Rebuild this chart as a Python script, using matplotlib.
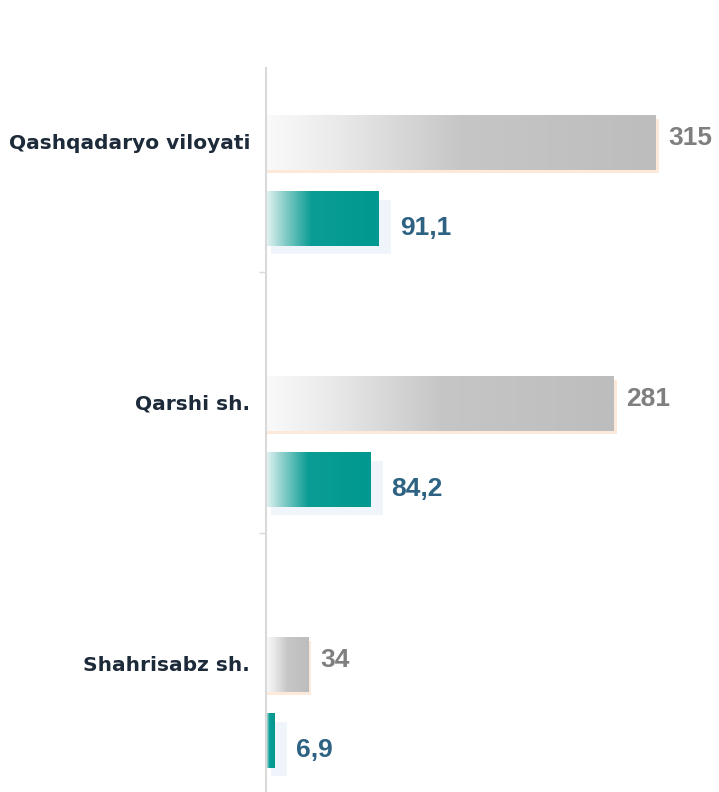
import matplotlib.pyplot as plt
import numpy as np
from matplotlib.colors import LinearSegmentedColormap
from matplotlib.transforms import blended_transform_factory

categories = ['Qashqadaryo viloyati', 'Qarshi sh.', 'Shahrisabz sh.']
gray_vals = [315, 281, 34]
teal_vals = [91.1, 84.2, 6.9]

plt.rcParams['font.family'] = ['Liberation Sans', 'DejaVu Sans']

fig = plt.figure(figsize=(7.19, 7.92), dpi=100)
ax = fig.add_axes([266 / 719, 0, 453 / 719, 724 / 792])

gray_cmap = LinearSegmentedColormap.from_list(
    'g', [(0, '#fafafa'), (0.2, '#e8e8e8'), (0.5, '#c6c6c6'), (1, '#bdbdbd')])
teal_cmap = LinearSegmentedColormap.from_list(
    't', [(0, '#e4f4f3'), (0.15, '#8fd0cc'), (0.4, '#0a9d95'), (1, '#009890')])

ramp = np.linspace(0, 1, 256).reshape(1, -1)
h = 0.207
off = 0.145

for i, (g, t) in enumerate(zip(gray_vals, teal_vals)):
    yg = i - off
    yt = i + off
    # soft glow under the bars
    ax.add_patch(plt.Rectangle((1, yg - h / 2 + 0.012), g + 1.5, h,
                               color='#fde9da', zorder=1, lw=0))
    ax.add_patch(plt.Rectangle((4, yt - h / 2 + 0.03), t + 6, h,
                               color='#f0f5fc', zorder=1, lw=0))
    ax.imshow(ramp, cmap=gray_cmap, aspect='auto', zorder=2,
              extent=[0, g, yg + h / 2, yg - h / 2])
    ax.imshow(ramp, cmap=teal_cmap, aspect='auto', zorder=2,
              extent=[0, t, yt + h / 2, yt - h / 2])
    ax.text(g + 10, yg - 0.02, str(g), color='#7f7f7f', fontsize=19,
            fontweight='bold', va='center', ha='left')
    ax.text(t + 17, yt + 0.035, str(t).replace('.', ','), color='#2e6283',
            fontsize=19, fontweight='bold', va='center', ha='left')

tr = blended_transform_factory(ax.transAxes, ax.transData)
for i, c in enumerate(categories):
    ax.text(-0.035, i - off, c, transform=tr, ha='right', va='center',
            fontsize=14.5, fontweight='bold', color='#1d2a3a',
            family='DejaVu Sans')

ax.set_xlim(0, 366)
ax.set_ylim(2.341, -0.433)
for s in ['top', 'right', 'bottom']:
    ax.spines[s].set_visible(False)
ax.spines['left'].set_color('#d9d9d9')
ax.spines['left'].set_linewidth(1.5)
ax.set_xticks([])
ax.set_yticks([0.35, 1.35])
ax.set_yticklabels([])
ax.tick_params(axis='y', length=5, color='#d9d9d9', width=1)

fig.savefig('out.png', dpi=100)
